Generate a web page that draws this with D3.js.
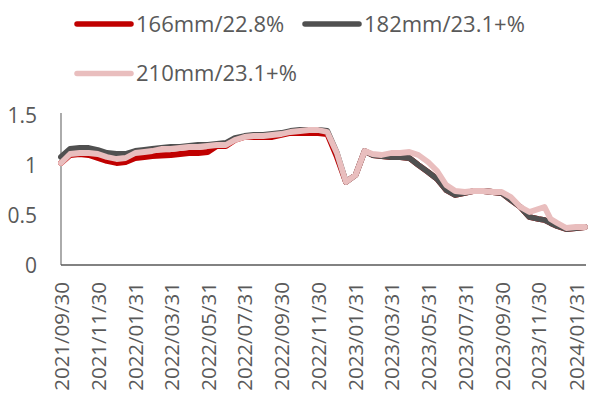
<!DOCTYPE html>
<html>
<head>
<meta charset="utf-8">
<script src="https://cdn.jsdelivr.net/npm/d3@7/dist/d3.min.js"></script>
<style>
  html, body { margin: 0; padding: 0; background: #fff; }
  svg { display: block; }
  text { font-family: "Open Sans", "Noto Sans", sans-serif; fill: #595959; }
</style>
</head>
<body>
<svg id="chart" width="598" height="399"></svg>
<script>
// Observation dates (semi-monthly)
const dates = [
  "2021-09-30","2021-10-15","2021-10-31","2021-11-15","2021-11-30","2021-12-15","2021-12-31",
  "2022-01-15","2022-01-31","2022-02-15","2022-02-28","2022-03-15","2022-03-31","2022-04-15",
  "2022-04-30","2022-05-15","2022-05-31","2022-06-15","2022-06-30","2022-07-15","2022-07-31",
  "2022-08-15","2022-08-31","2022-09-15","2022-09-30","2022-10-15","2022-10-31","2022-11-15",
  "2022-11-30","2022-12-15","2022-12-31","2023-01-15","2023-01-31","2023-02-15","2023-02-28",
  "2023-03-15","2023-03-31","2023-04-15","2023-04-30","2023-05-15","2023-05-31","2023-06-15",
  "2023-06-30","2023-07-15","2023-07-31","2023-08-15","2023-08-31","2023-09-15","2023-09-30",
  "2023-10-15","2023-10-31","2023-11-15","2023-11-30","2023-12-10","2023-12-20","2023-12-31",
  "2024-01-15","2024-01-31","2024-02-15"
];

// 166mm / 22.8%
const s166 = [
  1.02,1.10,1.11,1.10,1.07,1.04,1.02,
  1.03,1.07,1.08,1.09,1.095,1.10,1.11,
  1.12,1.12,1.13,1.19,1.19,1.25,1.28,
  1.28,1.28,1.28,1.30,1.32,1.32,1.32,
  1.32,1.31,1.08,0.83,0.90,1.14,1.10,
  1.09,1.08,1.08,1.07,1.00,0.93,0.86,
  0.75,0.70,0.72,0.74,0.74,0.73,0.72,
  0.65,0.58,0.48,0.46,0.45,0.42,0.39,
  0.36,0.37,0.38
];

// 182mm / 23.1+%
const s182 = [
  1.08,1.16,1.17,1.17,1.15,1.12,1.11,
  1.11,1.14,1.15,1.16,1.17,1.18,1.18,
  1.19,1.20,1.20,1.21,1.22,1.27,1.29,
  1.30,1.30,1.31,1.32,1.34,1.35,1.35,
  1.35,1.34,1.12,0.83,0.90,1.14,1.10,
  1.09,1.08,1.08,1.07,1.00,0.93,0.86,
  0.75,0.70,0.72,0.74,0.74,0.73,0.72,
  0.65,0.58,0.48,0.46,0.45,0.42,0.39,
  0.36,0.37,0.38
];

// 210mm / 23.1+%
const s210 = [
  1.02,1.11,1.12,1.12,1.11,1.08,1.06,
  1.07,1.12,1.13,1.14,1.16,1.16,1.17,
  1.18,1.18,1.19,1.20,1.20,1.25,1.28,
  1.29,1.29,1.30,1.31,1.33,1.34,1.35,
  1.35,1.33,1.12,0.83,0.90,1.14,1.11,
  1.10,1.12,1.12,1.13,1.10,1.03,0.94,
  0.80,0.74,0.73,0.74,0.74,0.73,0.73,
  0.68,0.58,0.53,0.56,0.58,0.46,0.42,
  0.37,0.38,0.38
];

const seriesNames = ["166mm/22.8%", "182mm/23.1+%", "210mm/23.1+%"];
const seriesColors = ["#C00000", "#505050", "#E9BEBE"];
const yTicks = [0, 0.5, 1, 1.5];
const xTickLabels = [
  "2021/09/30","2021/11/30","2022/01/31","2022/03/31","2022/05/31","2022/07/31","2022/09/30",
  "2022/11/30","2023/01/31","2023/03/31","2023/05/31","2023/07/31","2023/09/30","2023/11/30","2024/01/31"
];

const parse = d3.utcParse("%Y-%m-%d");
const parseTick = d3.utcParse("%Y/%m/%d");
const fmtTick = d3.utcFormat("%Y/%m/%d");

const svg = d3.select("#chart");
const plotLeft = 61, plotRight = 586, plotTop = 115, plotBottom = 265;

const x = d3.scaleUtc()
  .domain([parse(dates[0]), parse(dates[dates.length - 1])])
  .range([plotLeft, 585]);
const y = d3.scaleLinear().domain([0, 1.5]).range([plotBottom, plotTop]);

// Y axis
const yAxis = svg.append("g")
  .attr("transform", `translate(${plotLeft},0)`)
  .call(d3.axisLeft(y).tickValues(yTicks).tickSize(0).tickPadding(24)
    .tickFormat(d => d3.format("")(d)));
yAxis.select(".domain").attr("stroke", "#7f7f7f").attr("stroke-width", 1.3)
  .attr("d", `M0,${plotTop - 2}V${plotBottom}`);
yAxis.selectAll("text").style("font-size", "21px").attr("fill", "#595959").attr("dy", "0.36em");

// X axis
const xAxis = svg.append("g")
  .attr("transform", `translate(0,${plotBottom})`)
  .call(d3.axisBottom(x).tickValues(xTickLabels.map(parseTick)).tickSize(0)
    .tickFormat(fmtTick));
xAxis.select(".domain").attr("stroke", "#595959").attr("stroke-width", 1.3)
  .attr("d", `M${plotLeft},0H${plotRight}`);
xAxis.selectAll("text")
  .style("font-size", "20.5px")
  .attr("fill", "#595959")
  .attr("text-anchor", "end")
  .attr("transform", "rotate(-90)")
  .attr("x", -17)
  .attr("y", 0)
  .attr("dy", "0.36em");

// Lines
const line = d3.line()
  .x((d, i) => x(parse(dates[i])))
  .y(d => y(d))
  .curve(d3.curveLinear);

[s166, s182, s210].forEach((s, k) => {
  svg.append("path")
    .datum(s)
    .attr("d", line)
    .attr("fill", "none")
    .attr("stroke", seriesColors[k])
    .attr("stroke-width", 5.8)
    .attr("stroke-linejoin", "round")
    .attr("stroke-linecap", "round");
});

// Legend
const legendItems = [
  { x: 77, y: 24 },
  { x: 305, y: 24 },
  { x: 77, y: 73.5 }
];
legendItems.forEach((p, k) => {
  const g = svg.append("g").attr("transform", `translate(${p.x},${p.y})`);
  g.append("line").attr("x1", 0).attr("x2", 54).attr("y1", 0).attr("y2", 0)
    .attr("stroke", seriesColors[k]).attr("stroke-width", 5.5).attr("stroke-linecap", "round");
  g.append("text").attr("x", 59).attr("y", 0).attr("dy", "0.36em")
    .style("font-size", "22px").attr("fill", "#595959").text(seriesNames[k]);
});
</script>
</body>
</html>
